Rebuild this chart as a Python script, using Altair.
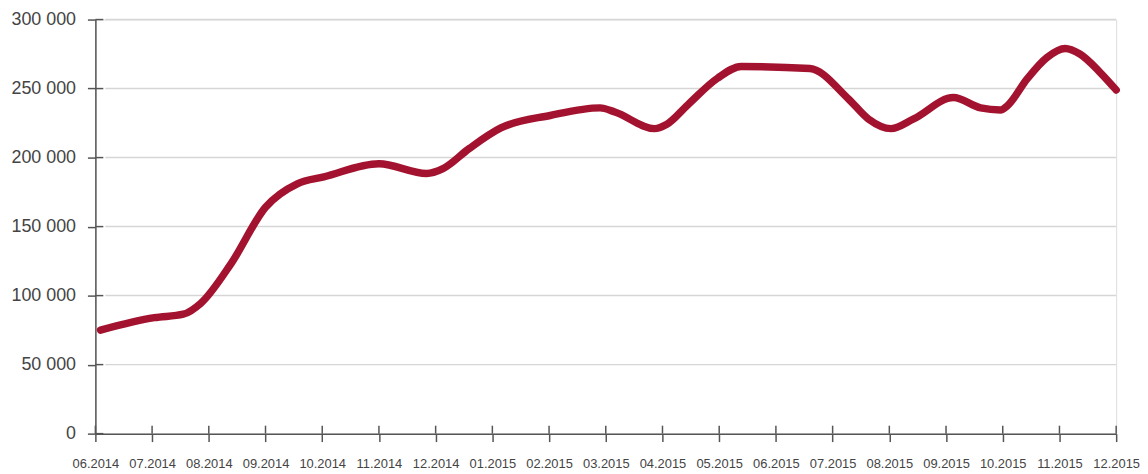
import altair as alt
import pandas as pd

# Tick labels (one per month)
month_labels = ["06.2014", "07.2014", "08.2014", "09.2014", "10.2014", "11.2014",
                "12.2014", "01.2015", "02.2015", "03.2015", "04.2015", "05.2015",
                "06.2015", "07.2015", "08.2015", "09.2015", "10.2015", "11.2015",
                "12.2015"]
y_ticks = [0, 50000, 100000, 150000, 200000, 250000, 300000]

# Series (position in months since 06.2014, value)
month_pos = [0.09, 1.04, 1.55, 1.86, 2.39, 3.00, 3.56, 4.03, 5.00, 5.84, 6.13,
             6.59, 7.15, 8.02, 8.90, 9.16, 9.86, 10.07, 10.44, 10.97, 11.39,
             12.60, 13.28, 13.63, 14.03, 14.43, 15.13, 15.61, 15.96, 16.08,
             16.43, 16.78, 17.10, 17.36, 17.71, 18.00]
values = [75000, 84000, 86500, 94500, 123000, 164000, 181000, 186000, 195500,
          188500, 192000, 206500, 221500, 230500, 236000, 233000, 221000,
          224000, 238000, 257500, 266000, 264500, 242500, 228000, 221000,
          228000, 243500, 236000, 234500, 237500, 257000, 272500, 279000,
          275000, 262000, 249000]

W, H = 1028, 417
FONT = "Liberation Sans, Arial, sans-serif"
AXIS_COLOR = "#555555"
TEXT_COLOR = "#444444"

df = pd.DataFrame({"m": month_pos, "v": values})
df_months = pd.DataFrame({"m": list(range(len(month_labels)))})
df_yt = pd.DataFrame({"v": y_ticks})
df_grid = pd.DataFrame({"v": [t for t in y_ticks if t > 0]})

label_arr = "[" + ",".join("'%s'" % s for s in month_labels) + "]"

x_enc = alt.X(
    "m:Q",
    scale=alt.Scale(domain=[0, len(month_labels) - 1], nice=False, zero=False),
    axis=alt.Axis(values=list(range(len(month_labels))),
                  labelExpr=label_arr + "[datum.value]",
                  title=None, grid=False, tickSize=8, tickWidth=1.5,
                  tickColor=AXIS_COLOR, domainColor=AXIS_COLOR, domainWidth=1.5,
                  labelFont=FONT, labelFontSize=13, labelColor=TEXT_COLOR,
                  labelPadding=16, labelFlush=False, labelOverlap=False,
                  labelBound=False),
)
y_enc = alt.Y(
    "v:Q",
    scale=alt.Scale(domain=[0, 300000], nice=False, zero=True),
    axis=alt.Axis(values=y_ticks,
                  labelExpr="datum.value == 0 ? '0' : format(datum.value / 1000, 'd') + ' 000'",
                  title=None, grid=False, tickSize=8, tickWidth=1.5,
                  tickColor=AXIS_COLOR, domainColor=AXIS_COLOR, domainWidth=1.5,
                  labelFont=FONT, labelFontSize=18, labelColor=TEXT_COLOR,
                  labelPadding=12, labelOverlap=False),
)

grid = alt.Chart(df_grid).mark_rule(color="#d6d6d6", strokeWidth=1.5).encode(
    y=y_enc, x=alt.value(10), x2=alt.value(W)
)
yticks_in = alt.Chart(df_yt).mark_rule(color=AXIS_COLOR, strokeWidth=1.5).encode(
    y=y_enc, x=alt.value(0), x2=alt.value(8)
)
xticks_in = alt.Chart(df_months).mark_rule(color=AXIS_COLOR, strokeWidth=1.5).encode(
    x=x_enc, y=alt.value(H - 8), y2=alt.value(H)
)
line = alt.Chart(df).mark_line(
    color="#A3132F", strokeWidth=7.5, strokeCap="round", strokeJoin="round",
    interpolate="monotone"
).encode(x=x_enc, y=y_enc)

chart = alt.layer(grid, yticks_in, xticks_in, line).properties(
    width=W, height=H,
    padding={"left": 88, "top": 10, "right": 24, "bottom": 38},
    autosize=alt.AutoSizeParams(type="none"),
).configure_view(stroke=None).configure(background="white")

chart.save("out.html", embed_options={"renderer": "svg", "actions": False})
